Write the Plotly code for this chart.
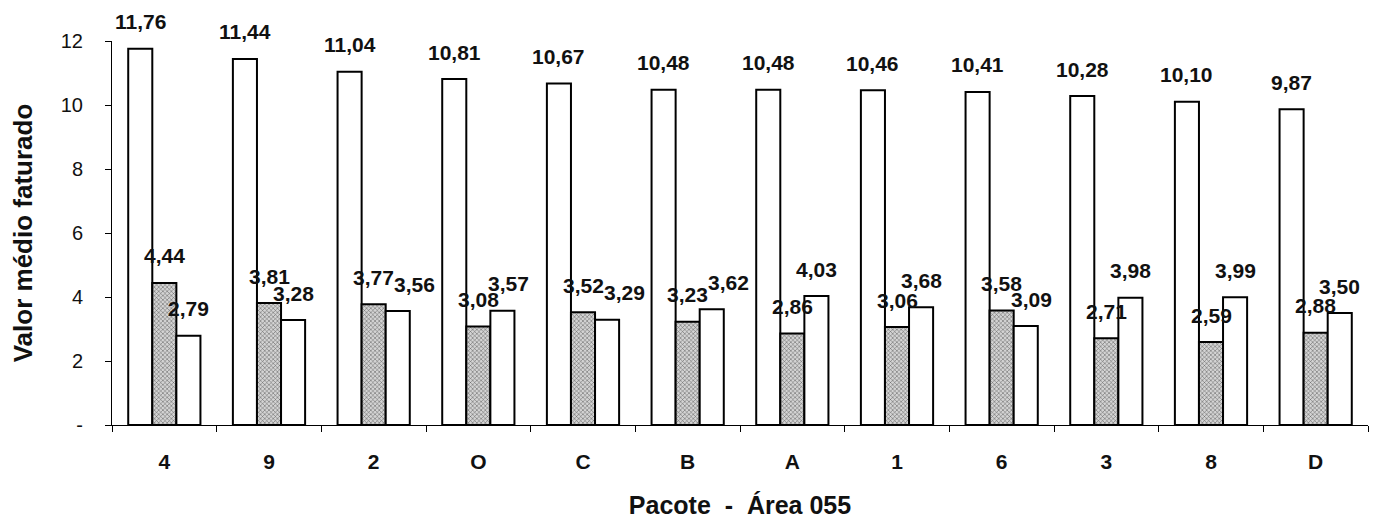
import plotly.graph_objects as go
import numpy as np

categories = ["4", "9", "2", "O", "C", "B", "A", "1", "6", "3", "8", "D"]
serie_1 = [11.76, 11.44, 11.04, 10.81, 10.67, 10.48, 10.48, 10.46, 10.41, 10.28, 10.10, 9.87]
serie_2 = [4.44, 3.81, 3.77, 3.08, 3.52, 3.23, 2.86, 3.06, 3.58, 2.71, 2.59, 2.88]
serie_3 = [2.79, 3.28, 3.56, 3.57, 3.29, 3.62, 4.03, 3.68, 3.09, 3.98, 3.99, 3.50]
y_tickvals = [0, 2, 4, 6, 8, 10, 12]
y_ticktext = ["-", "2", "4", "6", "8", "10", "12"]

FONT = "Liberation Sans, Arial, sans-serif"
BARGAP = 0.31
xpos = np.arange(len(categories))

fig = go.Figure()
series = [serie_1, serie_2, serie_3]
for j, vals in enumerate(series):
    if j == 1:
        marker = dict(color="#c0c0c0",
                      line=dict(color="black", width=2),
                      pattern=dict(shape="x", size=3, solidity=0.3,
                                   fgcolor="#555555", bgcolor="#d4d4d4",
                                   fillmode="replace"))
    else:
        marker = dict(color="white", line=dict(color="black", width=2))
    fig.add_trace(go.Bar(x=xpos, y=vals, marker=marker, showlegend=False,
                         cliponaxis=False))

bw = (1 - BARGAP) / 3
for j, vals in enumerate(series):
    for i, v in enumerate(vals):
        # nudge the third label sideways when it would sit on top of the second one
        xs = 0
        if j == 2:
            d = abs(serie_3[i] - serie_2[i])
            if d < 0.45:
                xs = 17
            elif d < 0.5:
                xs = 6
        fig.add_annotation(x=xpos[i] + (j - 1) * bw, y=v, xref="x", yref="y",
                           text=f"{v:.2f}".replace(".", ","),
                           showarrow=False, yshift=27, xshift=xs, yanchor="middle",
                           font=dict(family=FONT, size=21, color="#111", weight="bold"))

fig.update_layout(
    width=1375, height=522,
    margin=dict(l=112, r=7, t=41, b=88),
    paper_bgcolor="white", plot_bgcolor="white",
    barmode="group", bargap=BARGAP, bargroupgap=0,
    font=dict(family=FONT, color="#111"),
)
fig.update_xaxes(
    range=[-0.5, len(categories) - 0.5],
    tickvals=xpos, ticktext=categories, ticks="",
    tickfont=dict(family=FONT, size=21, color="#111", weight="bold"),
    ticklabelstandoff=18,
    showline=True, linecolor="black", linewidth=1,
    showgrid=False, zeroline=False,
    minor=dict(tickvals=list(np.arange(len(categories) + 1) - 0.5),
               ticks="outside", ticklen=6, tickcolor="black", tickwidth=1,
               showgrid=False),
    title=dict(text="Pacote  -  Área 055", standoff=24,
               font=dict(family=FONT, size=25, color="#111", weight="bold")),
)
fig.update_yaxes(
    range=[0, 12], tickvals=y_tickvals, ticktext=y_ticktext,
    ticks="outside", ticklen=6, tickcolor="black", tickwidth=1,
    tickfont=dict(family=FONT, size=20, color="#111"),
    ticklabelstandoff=18,
    showline=True, linecolor="black", linewidth=1,
    showgrid=False, zeroline=False,
    title=dict(text="Valor médio faturado", standoff=20,
               font=dict(family=FONT, size=26, color="#111", weight="bold")),
)

fig.write_html("out.html")
